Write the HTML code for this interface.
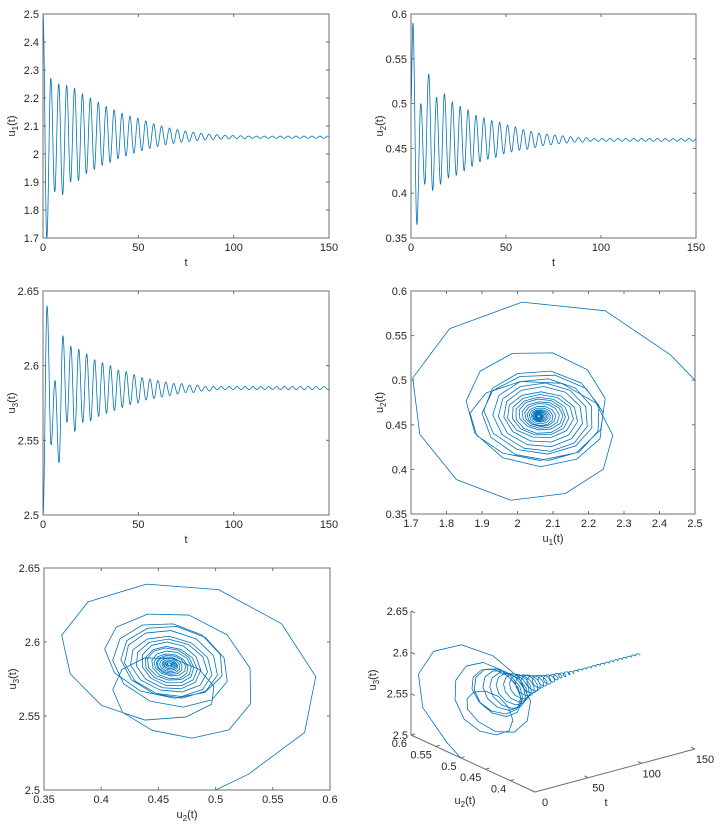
<!DOCTYPE html>
<html><head><meta charset="utf-8">
<style>
html,body{margin:0;padding:0;background:#fff;}
svg{display:block;font-family:"Liberation Sans",sans-serif;}
</style></head>
<body>
<svg id="fig" width="725" height="826" viewBox="0 0 725 826" xmlns="http://www.w3.org/2000/svg"></svg>
<script>
// ---- data ----
const period = 4.15;
const u1Start = 2.5, u1TroughT0 = 2.0, u1PeakT0 = 4.1;
const u1Peaks = [2.27,2.25,2.245,2.235,2.215,2.2,2.185,2.17,2.158,2.145,2.135,2.128,2.118,2.108,2.1,2.093,2.087,2.082,2.078,2.074,2.071,2.069,2.067,2.066,2.065,2.064,2.064,2.064,2.064,2.064,2.064,2.064,2.064,2.064,2.064,2.064,2.064];
const u1Troughs = [1.70,1.865,1.855,1.90,1.905,1.93,1.945,1.96,1.97,1.983,1.993,2.003,2.012,2.02,2.027,2.033,2.038,2.042,2.045,2.048,2.05,2.052,2.053,2.054,2.055,2.055,2.056,2.056,2.056,2.056,2.056,2.056,2.056,2.056,2.056,2.056,2.056];
const u2Start = 0.5, u2PeakT0 = 1.0, u2TroughT0 = 3.1;
const u2Peaks = [0.59,0.50,0.533,0.507,0.511,0.502,0.497,0.493,0.487,0.484,0.481,0.479,0.476,0.474,0.471,0.469,0.467,0.466,0.465,0.464,0.463,0.462,0.462,0.461,0.461,0.461,0.461,0.461,0.461,0.461,0.461,0.461,0.461,0.461,0.461,0.461,0.461];
const u2Troughs = [0.365,0.41,0.403,0.41,0.417,0.42,0.425,0.43,0.435,0.438,0.44,0.444,0.446,0.448,0.449,0.451,0.453,0.454,0.455,0.456,0.457,0.457,0.458,0.458,0.458,0.458,0.458,0.458,0.458,0.458,0.458,0.458,0.458,0.458,0.458,0.458,0.458];
const u3Start = 2.5, u3PeakT0 = 2.15, u3TroughT0 = 4.25;
const u3Peaks = [2.64,2.59,2.62,2.613,2.611,2.608,2.604,2.602,2.6,2.597,2.596,2.594,2.592,2.591,2.59,2.589,2.588,2.588,2.587,2.587,2.586,2.586,2.586,2.586,2.586,2.586,2.586,2.586,2.586,2.586,2.586,2.586,2.586,2.586,2.586,2.586,2.586];
const u3Troughs = [2.547,2.535,2.562,2.556,2.562,2.563,2.566,2.568,2.57,2.572,2.574,2.575,2.577,2.578,2.579,2.58,2.581,2.582,2.582,2.583,2.583,2.584,2.584,2.584,2.584,2.584,2.584,2.584,2.584,2.584,2.584,2.584,2.584,2.584,2.584,2.584,2.584];
const tTicks = [0,50,100,150];
const u1Ticks = [1.7,1.8,1.9,2,2.1,2.2,2.3,2.4,2.5];
const u2Ticks = [0.35,0.4,0.45,0.5,0.55,0.6];
const u3Ticks = [2.5,2.55,2.6,2.65];
const u2Ticks3d = [0.4,0.45,0.5,0.55,0.6];

// ---- helpers ----
const NS="http://www.w3.org/2000/svg";
const svg=document.getElementById('fig');
function mk(tag,attrs,parent){const e=document.createElementNS(NS,tag);for(const k in attrs)e.setAttribute(k,attrs[k]);(parent||svg).appendChild(e);return e;}
const BLUE="#0072BD", AX="#6f6f6f", TX="#262626";

function extrema(start,tP0,peaks,tT0,troughs){
  const ex=[[0,start]];
  peaks.forEach((v,k)=>ex.push([tP0+k*period,v]));
  troughs.forEach((v,k)=>ex.push([tT0+k*period,v]));
  ex.sort((a,b)=>a[0]-b[0]);
  return ex;
}
function valueAt(ex,t){
  for(let i=0;i<ex.length-1;i++){
    if(t>=ex[i][0]&&t<=ex[i+1][0]){
      const s=(t-ex[i][0])/(ex[i+1][0]-ex[i][0]);
      return ex[i][1]+(ex[i+1][1]-ex[i][1])*(1-Math.cos(Math.PI*s))/2;
    }
  }
  return ex[ex.length-1][1];
}
const E1=extrema(u1Start,u1PeakT0,u1Peaks,u1TroughT0,u1Troughs);
const E2=extrema(u2Start,u2PeakT0,u2Peaks,u2TroughT0,u2Troughs);
const E3=extrema(u3Start,u3PeakT0,u3Peaks,u3TroughT0,u3Troughs);
function fmt(v){return String(+v.toFixed(2));}

let clipId=0;
function panel(name,box,xr,yr,xticks,yticks,xlabel,ylabelBase,ylabelSub){
  const g=mk('g',{});
  
  
  const [L,T,R,B]=box;
  const sx=v=>L+(v-xr[0])/(xr[1]-xr[0])*(R-L);
  const sy=v=>B-(v-yr[0])/(yr[1]-yr[0])*(B-T);
  const cid='c'+(clipId++);
  const cp=mk('clipPath',{id:cid},g);mk('rect',{x:L,y:T,width:R-L,height:B-T},cp);
  const frame=mk('rect',{x:L,y:T,width:R-L,height:B-T,fill:'none',stroke:AX,'stroke-width':1},g);
  
  
  xticks.forEach(v=>{
    const x=sx(v);
    mk('line',{x1:x,y1:B,x2:x,y2:B-3,stroke:AX},g);
    mk('line',{x1:x,y1:T,x2:x,y2:T+3,stroke:AX},g);
    const t=mk('text',{x:x,y:B+13,'font-size':11,fill:TX,'text-anchor':'middle'},g);t.textContent=fmt(v);
    
    
  });
  yticks.forEach(v=>{
    const y=sy(v);
    mk('line',{x1:L,y1:y,x2:L+3,y2:y,stroke:AX},g);
    mk('line',{x1:R,y1:y,x2:R-3,y2:y,stroke:AX},g);
    const t=mk('text',{x:L-4,y:y+4,'font-size':11,fill:TX,'text-anchor':'end'},g);t.textContent=fmt(v);
    
    
  });
  const xl=mk('text',{x:(L+R)/2,y:B+28,'font-size':11,fill:TX,'text-anchor':'middle'},g);
  
  
  if(Array.isArray(xlabel)){xl.textContent=xlabel[0];const ts=mk('tspan',{'font-size':8,dy:3},xl);ts.textContent=xlabel[1];const t2=mk('tspan',{dy:-3},xl);t2.textContent='(t)';}
  else xl.textContent=xlabel;
  const yl=mk('text',{x:0,y:0,'font-size':11,fill:TX,'text-anchor':'middle',transform:`translate(${L-28},${(T+B)/2}) rotate(-90)`},g);
  
  
  yl.textContent=ylabelBase;const ys=mk('tspan',{'font-size':8,dy:3},yl);ys.textContent=ylabelSub;const y2=mk('tspan',{dy:-3},yl);y2.textContent='(t)';
  return {g,sx,sy,cid};
}
function drawLine(p,pts,name){
  const d=pts.map((q,i)=>(i?'L':'M')+p.sx(q[0]).toFixed(2)+' '+p.sy(q[1]).toFixed(2)).join('');
  const path=mk('path',{d:d,fill:'none',stroke:BLUE,'stroke-width':0.8,'clip-path':`url(#${p.cid})`,'stroke-linejoin':'round'},p.g);
  
  
}
function series(E,step){const out=[];for(let t=0;t<=150.0001;t+=step)out.push([t,valueAt(E,t)]);return out;}

const p1=panel('u1-time-plot',[43,14,329,238],[0,150],[1.7,2.5],tTicks,u1Ticks,'t','u','1');
drawLine(p1,series(E1,0.08),'u1-series');
const p2=panel('u2-time-plot',[411,14,696,238],[0,150],[0.35,0.6],tTicks,u2Ticks,'t','u','2');
drawLine(p2,series(E2,0.08),'u2-series');
const p3=panel('u3-time-plot',[43,291,329,515],[0,150],[2.5,2.65],tTicks,u3Ticks,'t','u','3');
drawLine(p3,series(E3,0.08),'u3-series');
const ph=[];for(let t=0;t<=150.0001;t+=0.38)ph.push([t,valueAt(E1,t),valueAt(E2,t),valueAt(E3,t)]);
const p4=panel('u1-u2-phase-plot',[411,291,695,514],[1.7,2.5],[0.35,0.6],u1Ticks,u2Ticks,['u','1'],'u','2');
drawLine(p4,ph.map(q=>[q[1],q[2]]),'u1-u2-trajectory');
const p5=panel('u2-u3-phase-plot',[44,568,330,790],[0.35,0.6],[2.5,2.65],u2Ticks,u3Ticks,['u','2'],'u','3');
drawLine(p5,ph.map(q=>[q[2],q[3]]),'u2-u3-trajectory');

// Panel 6: 3D
const g6=mk('g',{});


const O={x:535,y:792};
function P(t,u2,u3){const a=(u2-0.35)/0.25,b=t/150,c=(u3-2.5)/0.15;return [O.x-124*a+160*b, O.y-57*a-43*b-124*c];}
const zA=P(0,0.6,2.5), zB=P(0,0.6,2.65), tE=P(150,0.35,2.5);
mk('line',{x1:zA[0],y1:zA[1],x2:zB[0],y2:zB[1],stroke:AX},g6);
mk('line',{x1:zA[0],y1:zA[1],x2:O.x,y2:O.y,stroke:AX},g6);
mk('line',{x1:O.x,y1:O.y,x2:tE[0],y2:tE[1],stroke:AX},g6);
u3Ticks.forEach(v=>{const p=P(0,0.6,v);mk('line',{x1:p[0],y1:p[1],x2:p[0]+4,y2:p[1]+1.8,stroke:AX},g6);
  const t=mk('text',{x:p[0]-3,y:p[1]+4,'font-size':11,fill:TX,'text-anchor':'end'},g6);t.textContent=fmt(v);
  
  });
u2Ticks3d.forEach(v=>{const p=P(0,v,2.5);mk('line',{x1:p[0],y1:p[1],x2:p[0]+4,y2:p[1]-1.1,stroke:AX},g6);
  const t=mk('text',{x:p[0]-4,y:p[1]+12,'font-size':11,fill:TX,'text-anchor':'end'},g6);t.textContent=fmt(v);
  
  });
tTicks.forEach(v=>{const p=P(v,0.35,2.5);mk('line',{x1:p[0],y1:p[1],x2:p[0]-4,y2:p[1]-1.8,stroke:AX},g6);
  const t=mk('text',{x:p[0]+10,y:p[1]+14,'font-size':11,fill:TX,'text-anchor':'middle'},g6);t.textContent=fmt(v);
  
  });
const xl6=mk('text',{x:465,y:804,'font-size':11,fill:TX,'text-anchor':'middle'},g6);


xl6.textContent='u';{const a=mk('tspan',{'font-size':8,dy:3},xl6);a.textContent='2';const b=mk('tspan',{dy:-3},xl6);b.textContent='(t)';}
const tl6=mk('text',{x:606,y:806,'font-size':11,fill:TX,'text-anchor':'middle'},g6);tl6.textContent='t';


const zl6=mk('text',{x:0,y:0,'font-size':11,fill:TX,'text-anchor':'middle',transform:'translate(376,680) rotate(-90)'},g6);


zl6.textContent='u';{const a=mk('tspan',{'font-size':8,dy:3},zl6);a.textContent='3';const b=mk('tspan',{dy:-3},zl6);b.textContent='(t)';}
const d6=ph.map((q,i)=>{const p=P(q[0],q[2],q[3]);return (i?'L':'M')+p[0].toFixed(2)+' '+p[1].toFixed(2);}).join('');
const path6=mk('path',{d:d6,fill:'none',stroke:BLUE,'stroke-width':0.8,'stroke-linejoin':'round'},g6);


</script>
</body></html>
